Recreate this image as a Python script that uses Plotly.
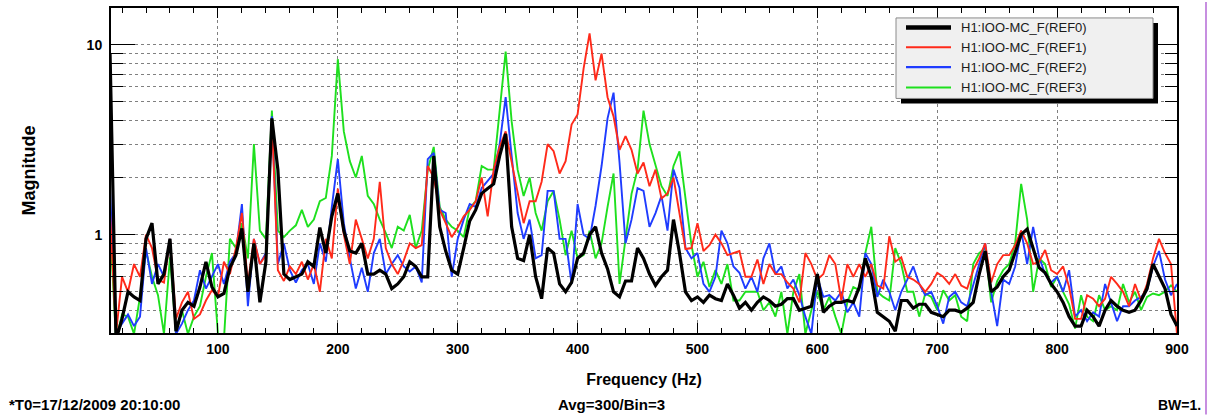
import plotly.graph_objects as go

# ---------------- data ----------------
freq = list(range(10, 901, 5))  # Hz, 5 Hz grid from 10 to 900

series_names = ["H1:IOO-MC_F(REF0)", "H1:IOO-MC_F(REF1)",
                "H1:IOO-MC_F(REF2)", "H1:IOO-MC_F(REF3)"]

ref0 = [9.0, 0.28, 0.36, 0.5, 0.47, 0.45, 0.95, 1.15, 0.55, 0.62,
        0.95, 0.31, 0.4, 0.44, 0.42, 0.53, 0.72, 0.53, 0.47, 0.49,
        0.67, 0.78, 1.08, 0.5, 0.9, 0.44, 0.72, 4.1, 2.2, 0.62,
        0.58, 0.6, 0.62, 0.72, 0.68, 1.09, 0.8, 1.25, 1.65, 1.05,
        0.82, 0.8, 0.9, 0.62, 0.62, 0.65, 0.62, 0.52, 0.55, 0.6,
        0.72, 0.68, 0.6, 0.6, 2.6, 1.1, 0.82, 0.65, 0.62, 0.85,
        1.18, 1.35, 1.65, 1.75, 1.85, 2.6, 3.4, 1.1, 0.75, 0.73,
        1.0, 0.6, 0.46, 0.85, 0.8, 0.55, 0.5, 0.56, 0.75, 0.8,
        1.0, 1.1, 0.8, 0.66, 0.5, 0.47, 0.57, 0.57, 0.85, 0.75,
        0.62, 0.54, 0.6, 0.65, 1.2, 0.8, 0.5, 0.45, 0.47, 0.44,
        0.48, 0.46, 0.45, 0.55, 0.48, 0.41, 0.44, 0.4, 0.44, 0.47,
        0.45, 0.42, 0.43, 0.46, 0.46, 0.4, 0.41, 0.42, 0.62, 0.39,
        0.42, 0.44, 0.44, 0.45, 0.44, 0.53, 0.75, 0.6, 0.39, 0.37,
        0.35, 0.31, 0.45, 0.45, 0.41, 0.43, 0.43, 0.39, 0.38, 0.37,
        0.4, 0.4, 0.39, 0.41, 0.44, 0.62, 0.82, 0.5, 0.53, 0.6,
        0.65, 0.8, 1.0, 1.07, 0.85, 0.67, 0.63, 0.55, 0.5, 0.44,
        0.37, 0.33, 0.33, 0.4, 0.37, 0.33, 0.4, 0.45, 0.42, 0.4,
        0.39, 0.4, 0.45, 0.52, 0.7, 0.6, 0.52, 0.38, 0.33]

ref1 = [1.3, 0.3, 0.6, 0.5, 0.7, 0.6, 1.0, 0.85, 0.58, 0.56,
        0.95, 0.36, 0.44, 0.5, 0.36, 0.38, 0.45, 0.51, 0.47, 0.72,
        0.62, 0.85, 1.3, 0.55, 0.95, 0.7, 0.78, 4.0, 0.65, 0.57,
        0.68, 0.62, 0.72, 0.58, 0.7, 0.5, 0.95, 0.75, 1.75, 1.0,
        0.7, 1.2, 0.95, 0.75, 0.95, 1.9, 0.85, 0.7, 0.62, 0.73,
        0.9, 0.85, 0.88, 2.3, 2.0, 1.35, 1.15, 0.97, 1.09, 1.25,
        1.35, 1.5, 2.0, 1.25, 2.2, 2.9, 3.5, 2.4, 1.65, 1.15,
        1.5, 1.5, 1.9, 3.0, 2.75, 2.1, 2.44, 3.8, 4.3, 7.5,
        11.5, 6.5, 9.0, 5.3, 4.2, 2.8, 3.3, 2.8, 2.1, 2.4,
        1.8, 2.2, 1.55, 1.65, 2.0, 1.29, 0.84, 0.85, 1.15, 0.82,
        0.88, 1.0, 0.9, 0.78, 0.8, 0.82, 0.6, 0.6, 0.74, 0.55,
        0.7, 0.62, 0.62, 0.56, 0.52, 0.44, 0.8, 0.7, 0.58, 0.62,
        0.78, 0.7, 0.45, 0.7, 0.6, 0.7, 0.6, 0.7, 0.54, 0.52,
        0.98, 0.72, 0.76, 0.6, 0.58, 0.55, 0.5, 0.55, 0.63, 0.6,
        0.55, 0.62, 0.54, 0.52, 0.65, 0.75, 0.9, 0.56, 0.7, 0.78,
        0.78, 0.88, 1.05, 0.9, 0.7, 0.72, 0.83, 0.65, 0.62, 0.68,
        0.53, 0.36, 0.36, 0.48, 0.46, 0.42, 0.46, 0.6, 0.55, 0.5,
        0.42, 0.55, 0.45, 0.55, 0.75, 0.95, 0.8, 0.7, 0.3]

ref2 = [1.75, 0.3, 0.34, 0.38, 0.33, 0.37, 0.85, 0.55, 0.7, 0.6,
        0.95, 0.3, 0.34, 0.4, 0.45, 0.65, 0.52, 0.6, 0.7, 0.55,
        0.72, 0.8, 1.45, 0.42, 0.95, 0.7, 0.8, 4.2, 0.7, 0.9,
        0.65, 0.56, 0.65, 0.7, 0.55, 0.9, 0.72, 1.4, 2.5, 1.15,
        0.75, 0.52, 0.67, 0.5, 0.8, 0.95, 0.62, 0.7, 0.78, 0.68,
        0.64, 0.68, 0.56, 2.5, 2.7, 1.35, 1.3, 0.6, 0.95, 1.2,
        1.45, 1.4, 1.76, 1.92, 2.1, 3.0, 5.3, 2.6, 1.3, 0.95,
        1.2, 0.75, 0.78, 1.7, 1.7, 0.95, 0.95, 0.55, 1.45, 1.0,
        0.95, 1.42, 2.3, 4.1, 5.6, 2.4, 0.9, 1.2, 1.76, 1.7,
        1.1, 1.3, 1.6, 1.05, 2.2, 1.76, 0.85, 0.75, 0.8, 0.55,
        0.5, 0.6, 1.05, 0.9, 0.68, 0.63, 0.52, 0.6, 0.5, 0.75,
        0.9, 0.62, 0.68, 0.52, 0.58, 0.48, 0.37, 0.3, 0.6, 0.47,
        0.48, 0.45, 0.5, 0.39, 0.44, 0.37, 0.8, 0.7, 0.47, 0.58,
        0.5, 0.4, 0.5, 0.58, 0.68, 0.55, 0.48, 0.5, 0.42, 0.34,
        0.47, 0.5, 0.44, 0.42, 0.55, 0.7, 0.9, 0.5, 0.33, 0.58,
        0.55, 0.68, 1.05, 0.7, 1.1, 0.76, 0.62, 0.56, 0.6, 0.5,
        0.65, 0.37, 0.4, 0.35, 0.39, 0.37, 0.55, 0.44, 0.35, 0.42,
        0.42, 0.45, 0.47, 0.51, 0.68, 0.82, 0.58, 0.48, 0.55]

ref3 = [1.1, 0.28, 0.38, 0.37, 0.3, 0.47, 0.82, 0.6, 0.48, 0.3,
        0.76, 0.3, 0.4, 0.3, 0.37, 0.42, 0.6, 0.8, 0.3, 0.28,
        0.95, 0.85, 1.15, 0.75, 3.0, 1.05, 0.95, 4.5, 1.05, 0.97,
        1.05, 1.12, 1.35, 1.1, 1.2, 1.5, 1.56, 2.6, 8.4, 3.5,
        2.44, 2.0, 2.6, 1.6, 1.45, 1.2, 1.02, 0.85, 1.1, 1.05,
        1.27, 0.85, 1.05, 2.2, 2.9, 1.4, 1.2, 1.1, 1.05, 0.97,
        1.38, 1.5, 2.3, 2.2, 2.2, 4.5, 9.2, 3.95, 2.2, 1.6,
        2.0, 1.3, 1.05, 1.5, 1.7, 1.2, 0.78, 1.05, 0.75, 0.78,
        1.05, 0.75, 0.9, 1.4, 2.1, 0.55, 0.95, 1.64, 2.2, 4.5,
        3.0, 2.3, 1.8, 1.6, 2.3, 2.75, 1.5, 0.88, 0.6, 0.72,
        0.53, 0.65, 0.55, 0.7, 0.45, 0.45, 0.5, 0.5, 0.5, 0.4,
        0.44, 0.37, 0.5, 0.3, 0.5, 0.62, 0.3, 0.4, 0.5, 0.4,
        0.47, 0.37, 0.3, 0.44, 0.53, 0.51, 0.8, 1.1, 0.5, 0.47,
        0.45, 0.85, 0.7, 0.5, 0.5, 0.37, 0.49, 0.47, 0.4, 0.51,
        0.45, 0.48, 0.37, 0.35, 0.7, 0.8, 0.85, 0.44, 0.57, 0.65,
        0.7, 0.9, 1.85, 1.2, 0.5, 0.75, 0.7, 0.53, 0.6, 0.5,
        0.43, 0.32, 0.48, 0.37, 0.35, 0.48, 0.4, 0.42, 0.4, 0.55,
        0.44, 0.5, 0.4, 0.47, 0.49, 0.48, 0.5, 0.54, 0.5]

series_values = [ref0, ref1, ref2, ref3]
for s in series_values:
    assert len(s) == len(freq), (len(s), len(freq))

x_tick_vals = [100, 200, 300, 400, 500, 600, 700, 800, 900]
x_tick_text = ["100", "200", "300", "400", "500", "600", "700", "800", "900"]
y_tick_vals = [1, 10]
y_tick_text = ["1", "10"]
y_minor_vals = [0.4, 0.5, 0.6, 0.7, 0.8, 0.9, 2, 3, 4, 5, 6, 7, 8, 9]

info_left = "*T0=17/12/2009 20:10:00"
info_mid = "Avg=300/Bin=3"
info_right = "BW=1."

# ---------------- style ----------------
colors = ["#000000", "#ff2a1a", "#1f3cff", "#1ee01e"]
widths = [3.2, 1.9, 1.9, 1.9]
FONT = "Liberation Sans, Arial, Helvetica, sans-serif"

W, H = 1209, 415
L, R, T, B = 111, 1177, 6, 333  # plot area in pixels


def px_x(p):
    return (p - L) / (R - L)


def px_y(p):
    return (B - p) / (B - T)


fig = go.Figure()
for i in [3, 2, 1, 0]:
    fig.add_trace(go.Scatter(
        x=freq, y=series_values[i], mode="lines", name=series_names[i],
        line=dict(color=colors[i], width=widths[i]), showlegend=False,
        hoverinfo="x+y+name"))

axis_common = dict(
    showline=True, linecolor="black", linewidth=2, mirror="allticks",
    ticks="inside", tickcolor="black", tickwidth=1,
    showgrid=True, gridcolor="#808080", griddash="dot", gridwidth=1,
    zeroline=False,
    tickfont=dict(family=FONT, size=14, color="black", weight="bold"),
)

fig.update_xaxes(
    **axis_common,
    range=[10.8, 900], tickmode="array", tickvals=x_tick_vals, ticktext=x_tick_text,
    ticklen=10, ticklabelstandoff=2,
    minor=dict(dtick=20, tick0=0, ticklen=5, ticks="inside", tickcolor="black", showgrid=False),
    title=dict(text="Frequency (Hz)", standoff=18,
               font=dict(family=FONT, size=16, color="black", weight="bold")),
)
fig.update_yaxes(
    **axis_common,
    type="log", range=[-0.518, 1.194], tickmode="array",
    tickvals=y_tick_vals, ticktext=y_tick_text, ticklen=24, ticklabelstandoff=4,
    minor=dict(tickmode="array", tickvals=y_minor_vals, ticklen=12, ticks="inside",
               tickcolor="black", showgrid=True, gridcolor="#808080", griddash="dot", gridwidth=1),
    title=dict(text="Magnitude", standoff=46,
               font=dict(family=FONT, size=18, color="black", weight="bold")),
)

shapes = []
annotations = []

# legend (drawn by hand to match the ROOT style box with shadow)
lx0, ly0, lx1, ly1 = 896, 16, 1153, 97
shapes.append(dict(type="rect", xref="paper", yref="paper", layer="above",
                   x0=px_x(lx0 + 5), x1=px_x(lx1 + 5), y0=px_y(ly1 + 5), y1=px_y(ly0 + 5),
                   fillcolor="black", line=dict(width=0)))
shapes.append(dict(type="rect", xref="paper", yref="paper", layer="above",
                   x0=px_x(lx0), x1=px_x(lx1), y0=px_y(ly1), y1=px_y(ly0),
                   fillcolor="#f0f0f0", line=dict(color="#8a8a8a", width=1)))
row_y = [25.5, 45.5, 65.5, 86]
for i, name in enumerate(series_names):
    shapes.append(dict(type="line", xref="paper", yref="paper", layer="above",
                       x0=px_x(906), x1=px_x(951), y0=px_y(row_y[i]), y1=px_y(row_y[i]),
                       line=dict(color=colors[i], width=4.5 if i == 0 else 2.2)))
    annotations.append(dict(xref="paper", yref="paper", x=px_x(959), y=px_y(row_y[i]),
                            xanchor="left", yanchor="middle", showarrow=False, text=name,
                            font=dict(family=FONT, size=13, color="#1a1a1a")))

# thin violet border line at the far right of the picture
shapes.append(dict(type="line", xref="paper", yref="paper", layer="above",
                   x0=px_x(1206), x1=px_x(1206), y0=px_y(0), y1=px_y(H),
                   line=dict(color="#b46ad6", width=1.5)))

info_font = dict(family=FONT, size=15, color="black", weight="bold")
annotations.append(dict(xref="paper", yref="paper", x=px_x(7), y=px_y(405),
                        xanchor="left", yanchor="middle", showarrow=False,
                        text=info_left, font=info_font))
annotations.append(dict(xref="paper", yref="paper", x=px_x(611), y=px_y(405),
                        xanchor="center", yanchor="middle", showarrow=False,
                        text=info_mid, font=info_font))
annotations.append(dict(xref="paper", yref="paper", x=px_x(1203), y=px_y(405),
                        xanchor="right", yanchor="middle", showarrow=False,
                        text=info_right, font=dict(family=FONT, size=14, color="black", weight="bold")))

fig.update_layout(
    width=W, height=H,
    margin=dict(l=L, r=W - R, t=T, b=H - B, pad=0),
    paper_bgcolor="white", plot_bgcolor="white",
    showlegend=False,
    font=dict(family=FONT, color="black"),
    shapes=shapes, annotations=annotations,
)

fig.write_html("out.html")
